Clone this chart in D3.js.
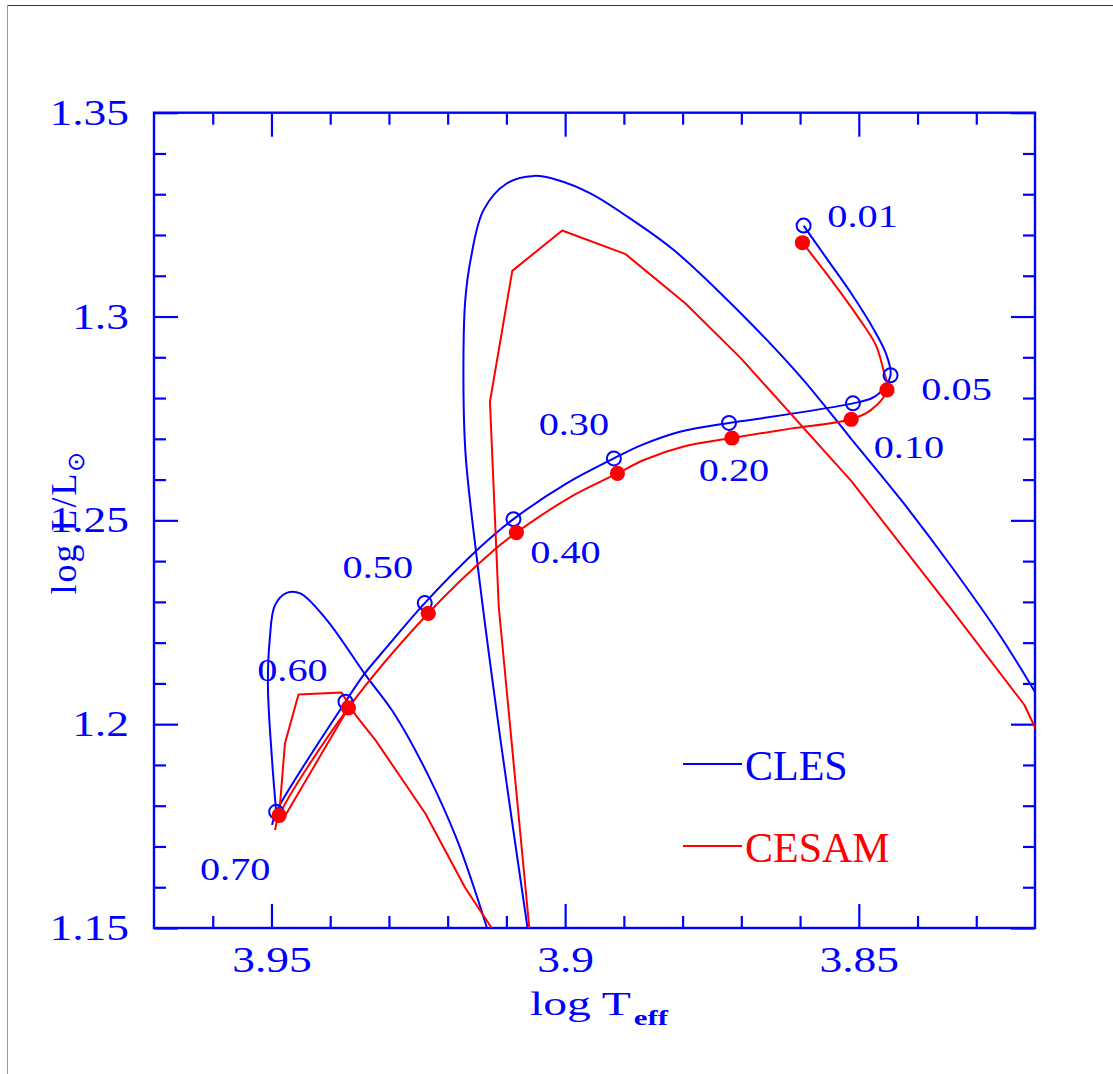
<!DOCTYPE html>
<html>
<head>
<meta charset="utf-8">
<script src="https://cdn.jsdelivr.net/npm/d3@7"></script>
<style>
  body { margin: 0; background: #fff; }
  svg { display: block; }
</style>
</head>
<body>
<svg id="chart" width="1113" height="1074"></svg>
<script>
// ages marked along the tracks
const ages = ["0.01", "0.05", "0.10", "0.20", "0.30", "0.40", "0.50", "0.60", "0.70"];

// marked points, log Teff / log L
const clesMarkT = [3.8594, 3.8446, 3.8510, 3.8721, 3.8917, 3.9088, 3.9239, 3.9374, 3.9492];
const clesMarkL = [1.3223, 1.2856, 1.2787, 1.2739, 1.2652, 1.2503, 1.2297, 1.2055, 1.1785];
const cesamMarkT = [3.8596, 3.8452, 3.8513, 3.8716, 3.8911, 3.9083, 3.9233, 3.9369, 3.9487];
const cesamMarkL = [1.3181, 1.2820, 1.2748, 1.2702, 1.2615, 1.2470, 1.2272, 1.2040, 1.1776];

// CLES track pieces [log Teff, log L]
const clesTrack = [
  [3.8594, 1.3223], [3.8553, 1.3139], [3.8513, 1.3057], [3.8474, 1.2967], [3.8454, 1.2910],
  [3.8446, 1.2856], [3.8465, 1.2812], [3.8479, 1.2799], [3.8510, 1.2787], [3.8667, 1.2750],
  [3.8721, 1.2739], [3.8803, 1.2718], [3.8871, 1.2684], [3.8917, 1.2652], [3.8996, 1.2592],
  [3.9088, 1.2503], [3.9144, 1.2435], [3.9239, 1.2297], [3.9303, 1.2190], [3.9343, 1.2121],
  [3.9374, 1.2055], [3.9492, 1.1785], [3.9499, 1.1753]
];
const clesLoop = [
  [3.9492, 1.1785], [3.9499, 1.1912], [3.9506, 1.2092], [3.9503, 1.2207], [3.9494, 1.2292],
  [3.9474, 1.2322], [3.9451, 1.2321], [3.9406, 1.2256], [3.9340, 1.2121], [3.9292, 1.2028],
  [3.9235, 1.1880], [3.9184, 1.1716], [3.9133, 1.1500]
];
const clesArch = [
  [3.9064, 1.1500], [3.9110, 1.1961], [3.9150, 1.2403], [3.9170, 1.2673], [3.9173, 1.2918],
  [3.9170, 1.3041], [3.9161, 1.3139], [3.9139, 1.3261], [3.9099, 1.3327], [3.9053, 1.3345],
  [3.9013, 1.3335], [3.8957, 1.3302], [3.8894, 1.3245], [3.8815, 1.3163], [3.8701, 1.3008],
  [3.8599, 1.2852], [3.8513, 1.2700], [3.8428, 1.2550], [3.8343, 1.2388], [3.8258, 1.2214],
  [3.8198, 1.2074]
];

// CESAM track pieces
const cesamTrack = [
  [3.8596, 1.3181], [3.8547, 1.3090], [3.8500, 1.2996], [3.8471, 1.2930], [3.8459, 1.2874],
  [3.8452, 1.2820], [3.8479, 1.2771], [3.8513, 1.2748], [3.8616, 1.2725], [3.8716, 1.2702],
  [3.8798, 1.2681], [3.8866, 1.2648], [3.8911, 1.2615], [3.8991, 1.2557], [3.9083, 1.2470],
  [3.9121, 1.2427], [3.9233, 1.2272], [3.9369, 1.2040], [3.9487, 1.1776], [3.9494, 1.1740]
];
const cesamReturn = [[3.9483, 1.1760], [3.9373, 1.2030]];
const cesamLoop = [
  [3.9487, 1.1776], [3.9477, 1.1953], [3.9454, 1.2073], [3.9381, 1.2078], [3.9371, 1.2055],
  [3.9357, 1.2023], [3.9323, 1.1961], [3.9238, 1.1781], [3.9170, 1.1598], [3.9125, 1.1500]
];
const cesamArch = [
  [3.9061, 1.1500], [3.9113, 1.2288], [3.9128, 1.2791], [3.9090, 1.3112], [3.9005, 1.3211],
  [3.8897, 1.3153], [3.8795, 1.3032], [3.8701, 1.2898], [3.8513, 1.2597], [3.8343, 1.2283],
  [3.8218, 1.2047], [3.8198, 1.1986]
];

// ticks
const xMajor = [3.95, 3.90, 3.85];
const xMajorLabels = ["3.95", "3.9", "3.85"];
const xMinor = [3.96, 3.94, 3.93, 3.92, 3.91, 3.89, 3.88, 3.87, 3.86, 3.84, 3.83];
const yMajor = [1.15, 1.20, 1.25, 1.30, 1.35];
const yMajorLabels = ["1.15", "1.2", "1.25", "1.3", "1.35"];
const yMinor = [1.16, 1.17, 1.18, 1.19, 1.21, 1.22, 1.23, 1.24, 1.26, 1.27, 1.28, 1.29,
                1.31, 1.32, 1.33, 1.34];

const seriesNames = ["CLES", "CESAM"];

// layout / style
const BLUE = "#0000ff";
const RED = "#ff0000";
const NUM_FONT = "'Liberation Serif', 'Times New Roman', serif";
const margin = { top: 112.7, left: 154 };
const width = 881;
const height = 815.3;
// label offsets in px from the CLES marker
const labelOffsets = [[59, -9], [66, 15], [56, 44], [5, 48], [-40, -34], [52, 34], [-47, -35], [-53, -31], [-41, 58]];

const svg = d3.select("#chart");

// page frame lines
svg.append("line").attr("x1", 7).attr("x2", 1113).attr("y1", 5.5).attr("y2", 5.5)
    .attr("stroke", "#333").attr("stroke-width", 1);
svg.append("line").attr("x1", 7.5).attr("x2", 7.5).attr("y1", 5).attr("y2", 1074)
    .attr("stroke", "#999").attr("stroke-width", 1);

const g = svg.append("g")
    .attr("transform", `translate(${margin.left},${margin.top})`);

const x = d3.scaleLinear().domain([3.97, 3.82]).range([0, width]);
const y = d3.scaleLinear().domain([1.15, 1.35]).range([height, 0]);

g.append("defs").append("clipPath").attr("id", "plot-clip")
    .append("rect").attr("width", width).attr("height", height);

function styleAxis(sel) {
  sel.attr("color", BLUE).attr("font-family", NUM_FONT).attr("font-size", 35);
  sel.select(".domain").remove();
  sel.selectAll(".tick line").attr("stroke-width", 2.2);
}

// bottom
g.append("g").attr("transform", `translate(0,${height})`)
    .call(d3.axisBottom(x).tickValues(xMinor).tickSize(-12).tickFormat(""))
    .call(styleAxis);
g.append("g").attr("transform", `translate(0,${height})`)
    .call(d3.axisBottom(x).tickValues(xMajor).tickSize(-24).tickFormat((d, i) => xMajorLabels[i]))
    .call(styleAxis)
    .selectAll("text")
    .attr("y", 0).attr("dy", 0)
    .attr("transform", "translate(0,44) scale(1.3,1)");

// top
g.append("g")
    .call(d3.axisTop(x).tickValues(xMinor).tickSize(-12).tickFormat(""))
    .call(styleAxis);
g.append("g")
    .call(d3.axisTop(x).tickValues(xMajor).tickSize(-24).tickFormat(""))
    .call(styleAxis);

// left
g.append("g")
    .call(d3.axisLeft(y).tickValues(yMinor).tickSize(-12).tickFormat(""))
    .call(styleAxis);
g.append("g")
    .call(d3.axisLeft(y).tickValues(yMajor).tickSize(-24).tickFormat((d, i) => yMajorLabels[i]))
    .call(styleAxis)
    .selectAll("text")
    .attr("x", 0).attr("dy", "0.33em")
    .attr("transform", "translate(-25,0) scale(1.3,1)");

// right
g.append("g").attr("transform", `translate(${width},0)`)
    .call(d3.axisRight(y).tickValues(yMinor).tickSize(-12).tickFormat(""))
    .call(styleAxis);
g.append("g").attr("transform", `translate(${width},0)`)
    .call(d3.axisRight(y).tickValues(yMajor).tickSize(-24).tickFormat(""))
    .call(styleAxis);

// frame
g.append("rect")
    .attr("width", width).attr("height", height)
    .attr("fill", "none").attr("stroke", BLUE).attr("stroke-width", 2.4);

// tracks
const smooth = d3.line().x(d => x(d[0])).y(d => y(d[1])).curve(d3.curveCatmullRom.alpha(0.5));
const straight = d3.line().x(d => x(d[0])).y(d => y(d[1]));

const plot = g.append("g").attr("clip-path", "url(#plot-clip)");

function drawTrack(data, gen, color) {
  plot.append("path")
      .datum(data)
      .attr("d", gen)
      .attr("fill", "none")
      .attr("stroke", color)
      .attr("stroke-width", 2)
      .attr("stroke-linejoin", "round");
}

drawTrack(clesArch, smooth, BLUE);
drawTrack(clesLoop, smooth, BLUE);
drawTrack(clesTrack, smooth, BLUE);

const clesMarks = clesMarkT.map((t, i) => ({ t, l: clesMarkL[i], age: ages[i] }));
const cesamMarks = cesamMarkT.map((t, i) => ({ t, l: cesamMarkL[i], age: ages[i] }));

g.append("g").selectAll("circle")
    .data(clesMarks)
    .join("circle")
    .attr("cx", d => x(d.t))
    .attr("cy", d => y(d.l))
    .attr("r", 7)
    .attr("fill", "none")
    .attr("stroke", BLUE)
    .attr("stroke-width", 2);

drawTrack(cesamArch, straight, RED);
drawTrack(cesamLoop, straight, RED);
drawTrack(cesamReturn, straight, RED);
drawTrack(cesamTrack, smooth, RED);

g.append("g").selectAll("circle")
    .data(cesamMarks)
    .join("circle")
    .attr("cx", d => x(d.t))
    .attr("cy", d => y(d.l))
    .attr("r", 7.6)
    .attr("fill", RED);

// age labels
g.append("g").selectAll("text")
    .data(clesMarks)
    .join("text")
    .attr("transform", (d, i) =>
      `translate(${x(d.t) + labelOffsets[i][0]},${y(d.l) + labelOffsets[i][1]}) scale(1.3,1)`)
    .attr("dy", "0.33em")
    .attr("text-anchor", "middle")
    .attr("font-family", NUM_FONT)
    .attr("font-size", 31)
    .attr("fill", BLUE)
    .text(d => d.age);

// legend
const legend = svg.append("g").attr("font-family", NUM_FONT).attr("font-size", 42);
[BLUE, RED].forEach((c, i) => {
  const ly = 764 + i * 82;
  legend.append("line")
      .attr("x1", 683).attr("x2", 742).attr("y1", ly).attr("y2", ly)
      .attr("stroke", c).attr("stroke-width", 2);
  legend.append("text")
      .attr("x", 745).attr("y", ly + 16)
      .attr("fill", c)
      .text(seriesNames[i]);
});

// axis titles
const xt = svg.append("text")
    .attr("transform", "translate(530,1015) scale(1.4,1)")
    .attr("font-family", NUM_FONT)
    .attr("font-size", 34)
    .attr("fill", BLUE);
xt.append("tspan").text("log T");
xt.append("tspan").attr("font-size", 22).attr("font-weight", "bold").attr("dy", 10).attr("dx", 2).text("eff");

const yt = svg.append("text")
    .attr("transform", "translate(76,522) rotate(-90)")
    .attr("text-anchor", "middle")
    .attr("font-family", NUM_FONT)
    .attr("font-size", 36)
    .attr("letter-spacing", 2)
    .attr("fill", BLUE);
yt.append("tspan").text("log L/L");
yt.append("tspan").attr("font-size", 24).attr("dy", 8).text("\u2299");
</script>
</body>
</html>
